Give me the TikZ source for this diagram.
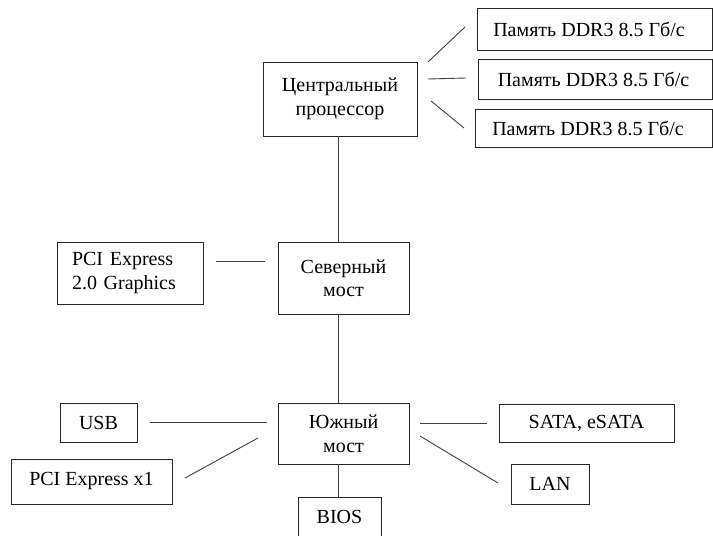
\documentclass[tikz,border=0pt]{standalone}
\usepackage{fontspec}
\setmainfont{Liberation Serif}
\begin{document}
\begin{tikzpicture}[x=1pt,y=-1pt,
  box/.style={draw=black!85, line width=0.9pt, inner sep=0pt, font=\fontsize{20}{23.5}\selectfont, align=center},
  conn/.style={line width=0.9pt, draw=black!75}]
\useasboundingbox (0,0) rectangle (713,536);
% boxes
\node[box, minimum width=235pt, minimum height=42pt] (mem1) at (594.5,29) {Память DDR3 8.5 Гб/с\hspace*{11pt}};
\node[box, minimum width=234pt, minimum height=40pt] (mem2) at (595,79) {Память DDR3 8.5 Гб/с\hspace*{3pt}};
\node[box, minimum width=237pt, minimum height=38pt] (mem3) at (593.5,128) {Память DDR3 8.5 Гб/с\hspace*{11pt}};
\node[box, minimum width=154pt, minimum height=74pt] (cpu) at (340,99) {Центральный\\процессор};
\node[box, minimum width=131pt, minimum height=72pt] (north) at (343.5,278) {Северный\\мост};
\node[box, minimum width=146pt, minimum height=62pt, align=left, text width=116pt] (pcig) at (130,273) {PCI Express\\2.0 Graphics};
\node[box, minimum width=131pt, minimum height=61pt] (south) at (343.5,433.5) {Южный\\мост};
\node[box, minimum width=77pt, minimum height=39pt] (usb) at (98.5,422.5) {USB};
\node[box, minimum width=161pt, minimum height=45pt] (pcix) at (91.5,481.5) {PCI Express x1};
\node[box, minimum width=83pt, minimum height=40pt] (bios) at (339.5,517) {BIOS};
\node[box, minimum width=175pt, minimum height=38pt] (sata) at (586.5,423) {SATA, eSATA};
\node[box, minimum width=78pt, minimum height=40pt] (lan) at (550,484) {LAN};
% spine and free line ends
\coordinate (spine) at (338,0);
\coordinate (c1a) at (428,62);  \coordinate (c1b) at (465,27);
\coordinate (c2a) at (428,79);  \coordinate (c2b) at (466,78);
\coordinate (c3a) at (431,101); \coordinate (c3b) at (464,128);
\coordinate (ga) at (216,261);  \coordinate (gb) at (265,261);
\coordinate (ua) at (150,422);  \coordinate (ub) at (267,422);
\coordinate (pa) at (185,478);  \coordinate (pb) at (258,438);
\coordinate (sa) at (420,423);  \coordinate (sb) at (487,423);
\coordinate (la) at (420,436);  \coordinate (lb) at (498,483);
% connectors
\draw[conn] (c1a) -- (c1b);
\draw[conn] (c2a) -- (c2b);
\draw[conn] (c3a) -- (c3b);
\draw[conn] (cpu.south -| spine) -- (north.north -| spine);
\draw[conn] (north.south -| spine) -- (south.north -| spine);
\draw[conn] (south.south -| spine) -- (bios.north -| spine);
\draw[conn] (ga) -- (gb);
\draw[conn] (ua) -- (ub);
\draw[conn] (pa) -- (pb);
\draw[conn] (sa) -- (sb);
\draw[conn] (la) -- (lb);
\end{tikzpicture}
\end{document}
